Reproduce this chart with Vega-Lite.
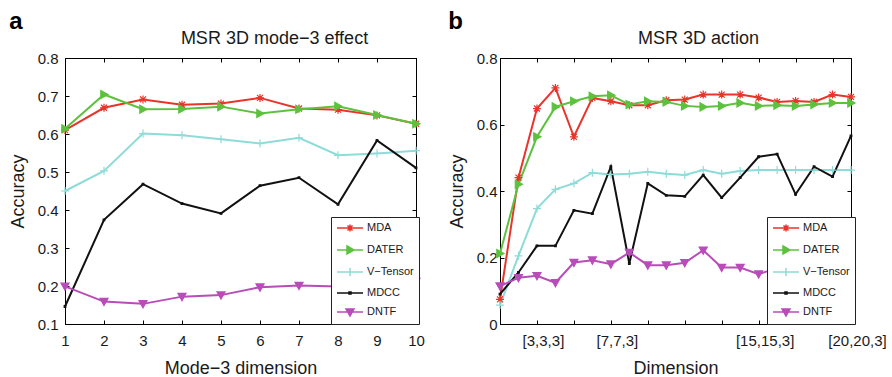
{
"$schema": "https://vega.github.io/schema/vega-lite/v6.json",
"padding": {"left": 8, "top": 9, "right": 2, "bottom": 0},
"spacing": 22,
"config": {
  "font": "Liberation Sans",
  "view": {"stroke": "#000", "strokeWidth": 1},
  "axis": {"domainColor": "#000", "tickColor": "#000", "tickSize": -4, "labelFont": "Liberation Sans", "labelFontSize": 15, "labelColor": "#1a1a1a", "labelFlush": false, "titleFont": "Liberation Sans", "titleFontSize": 18, "titleFontWeight": "normal", "titleColor": "#1a1a1a", "grid": false, "minExtent": 0},
  "legend": {"labelFont": "Liberation Sans", "labelFontSize": 11, "labelColor": "#1a1a1a"},
  "title": {"font": "Liberation Sans", "fontSize": 24, "fontWeight": "bold", "color": "#000", "anchor": "start", "frame": "bounds", "baseline": "alphabetic", "offset": -5}
},
"datasets": {
  "a": [
    {"dim":1,"method":"MDA","acc":0.61},{"dim":2,"method":"MDA","acc":0.669},{"dim":3,"method":"MDA","acc":0.691},{"dim":4,"method":"MDA","acc":0.677},{"dim":5,"method":"MDA","acc":0.68},{"dim":6,"method":"MDA","acc":0.695},{"dim":7,"method":"MDA","acc":0.667},{"dim":8,"method":"MDA","acc":0.664},{"dim":9,"method":"MDA","acc":0.649},{"dim":10,"method":"MDA","acc":0.627},
    {"dim":1,"method":"DATER","acc":0.614},{"dim":2,"method":"DATER","acc":0.704},{"dim":3,"method":"DATER","acc":0.665},{"dim":4,"method":"DATER","acc":0.666},{"dim":5,"method":"DATER","acc":0.672},{"dim":6,"method":"DATER","acc":0.654},{"dim":7,"method":"DATER","acc":0.665},{"dim":8,"method":"DATER","acc":0.673},{"dim":9,"method":"DATER","acc":0.65},{"dim":10,"method":"DATER","acc":0.627},
    {"dim":1,"method":"V−Tensor","acc":0.45},{"dim":2,"method":"V−Tensor","acc":0.503},{"dim":3,"method":"V−Tensor","acc":0.601},{"dim":4,"method":"V−Tensor","acc":0.597},{"dim":5,"method":"V−Tensor","acc":0.586},{"dim":6,"method":"V−Tensor","acc":0.575},{"dim":7,"method":"V−Tensor","acc":0.59},{"dim":8,"method":"V−Tensor","acc":0.544},{"dim":9,"method":"V−Tensor","acc":0.549},{"dim":10,"method":"V−Tensor","acc":0.556},
    {"dim":1,"method":"MDCC","acc":0.146},{"dim":2,"method":"MDCC","acc":0.374},{"dim":3,"method":"MDCC","acc":0.468},{"dim":4,"method":"MDCC","acc":0.417},{"dim":5,"method":"MDCC","acc":0.391},{"dim":6,"method":"MDCC","acc":0.464},{"dim":7,"method":"MDCC","acc":0.485},{"dim":8,"method":"MDCC","acc":0.415},{"dim":9,"method":"MDCC","acc":0.583},{"dim":10,"method":"MDCC","acc":0.511},
    {"dim":1,"method":"DNTF","acc":0.199},{"dim":2,"method":"DNTF","acc":0.159},{"dim":3,"method":"DNTF","acc":0.153},{"dim":4,"method":"DNTF","acc":0.172},{"dim":5,"method":"DNTF","acc":0.176},{"dim":6,"method":"DNTF","acc":0.197},{"dim":7,"method":"DNTF","acc":0.201},{"dim":8,"method":"DNTF","acc":0.199},{"dim":9,"method":"DNTF","acc":0.204},{"dim":10,"method":"DNTF","acc":0.212}
  ],
  "b": [
    {"dim":1,"method":"MDA","acc":0.074},{"dim":2,"method":"MDA","acc":0.44},{"dim":3,"method":"MDA","acc":0.648},{"dim":4,"method":"MDA","acc":0.71},{"dim":5,"method":"MDA","acc":0.563},{"dim":6,"method":"MDA","acc":0.68},{"dim":7,"method":"MDA","acc":0.67},{"dim":8,"method":"MDA","acc":0.658},{"dim":9,"method":"MDA","acc":0.658},{"dim":10,"method":"MDA","acc":0.673},{"dim":11,"method":"MDA","acc":0.675},{"dim":12,"method":"MDA","acc":0.69},{"dim":13,"method":"MDA","acc":0.69},{"dim":14,"method":"MDA","acc":0.69},{"dim":15,"method":"MDA","acc":0.681},{"dim":16,"method":"MDA","acc":0.668},{"dim":17,"method":"MDA","acc":0.671},{"dim":18,"method":"MDA","acc":0.668},{"dim":19,"method":"MDA","acc":0.69},{"dim":20,"method":"MDA","acc":0.683},
    {"dim":1,"method":"DATER","acc":0.212},{"dim":2,"method":"DATER","acc":0.42},{"dim":3,"method":"DATER","acc":0.563},{"dim":4,"method":"DATER","acc":0.653},{"dim":5,"method":"DATER","acc":0.67},{"dim":6,"method":"DATER","acc":0.685},{"dim":7,"method":"DATER","acc":0.688},{"dim":8,"method":"DATER","acc":0.66},{"dim":9,"method":"DATER","acc":0.67},{"dim":10,"method":"DATER","acc":0.668},{"dim":11,"method":"DATER","acc":0.656},{"dim":12,"method":"DATER","acc":0.653},{"dim":13,"method":"DATER","acc":0.656},{"dim":14,"method":"DATER","acc":0.665},{"dim":15,"method":"DATER","acc":0.656},{"dim":16,"method":"DATER","acc":0.658},{"dim":17,"method":"DATER","acc":0.656},{"dim":18,"method":"DATER","acc":0.66},{"dim":19,"method":"DATER","acc":0.665},{"dim":20,"method":"DATER","acc":0.665},
    {"dim":1,"method":"V−Tensor","acc":0.057},{"dim":2,"method":"V−Tensor","acc":0.205},{"dim":3,"method":"V−Tensor","acc":0.347},{"dim":4,"method":"V−Tensor","acc":0.405},{"dim":5,"method":"V−Tensor","acc":0.423},{"dim":6,"method":"V−Tensor","acc":0.455},{"dim":7,"method":"V−Tensor","acc":0.45},{"dim":8,"method":"V−Tensor","acc":0.452},{"dim":9,"method":"V−Tensor","acc":0.458},{"dim":10,"method":"V−Tensor","acc":0.452},{"dim":11,"method":"V−Tensor","acc":0.448},{"dim":12,"method":"V−Tensor","acc":0.463},{"dim":13,"method":"V−Tensor","acc":0.452},{"dim":14,"method":"V−Tensor","acc":0.46},{"dim":15,"method":"V−Tensor","acc":0.463},{"dim":16,"method":"V−Tensor","acc":0.463},{"dim":17,"method":"V−Tensor","acc":0.463},{"dim":18,"method":"V−Tensor","acc":0.463},{"dim":19,"method":"V−Tensor","acc":0.463},{"dim":20,"method":"V−Tensor","acc":0.463},
    {"dim":1,"method":"MDCC","acc":0.09},{"dim":2,"method":"MDCC","acc":0.155},{"dim":3,"method":"MDCC","acc":0.235},{"dim":4,"method":"MDCC","acc":0.235},{"dim":5,"method":"MDCC","acc":0.342},{"dim":6,"method":"MDCC","acc":0.332},{"dim":7,"method":"MDCC","acc":0.473},{"dim":8,"method":"MDCC","acc":0.182},{"dim":9,"method":"MDCC","acc":0.423},{"dim":10,"method":"MDCC","acc":0.387},{"dim":11,"method":"MDCC","acc":0.384},{"dim":12,"method":"MDCC","acc":0.448},{"dim":13,"method":"MDCC","acc":0.38},{"dim":14,"method":"MDCC","acc":0.44},{"dim":15,"method":"MDCC","acc":0.503},{"dim":16,"method":"MDCC","acc":0.511},{"dim":17,"method":"MDCC","acc":0.39},{"dim":18,"method":"MDCC","acc":0.473},{"dim":19,"method":"MDCC","acc":0.443},{"dim":20,"method":"MDCC","acc":0.566},
    {"dim":1,"method":"DNTF","acc":0.114},{"dim":2,"method":"DNTF","acc":0.139},{"dim":3,"method":"DNTF","acc":0.145},{"dim":4,"method":"DNTF","acc":0.124},{"dim":5,"method":"DNTF","acc":0.185},{"dim":6,"method":"DNTF","acc":0.192},{"dim":7,"method":"DNTF","acc":0.18},{"dim":8,"method":"DNTF","acc":0.215},{"dim":9,"method":"DNTF","acc":0.177},{"dim":10,"method":"DNTF","acc":0.177},{"dim":11,"method":"DNTF","acc":0.184},{"dim":12,"method":"DNTF","acc":0.222},{"dim":13,"method":"DNTF","acc":0.17},{"dim":14,"method":"DNTF","acc":0.17},{"dim":15,"method":"DNTF","acc":0.15},{"dim":16,"method":"DNTF","acc":0.168},{"dim":17,"method":"DNTF","acc":0.17},{"dim":18,"method":"DNTF","acc":0.172},{"dim":19,"method":"DNTF","acc":0.17},{"dim":20,"method":"DNTF","acc":0.169}
  ]
},
"hconcat": [
  {
    "width": 351, "height": 266,
    "title": {"text": "a"},
    "data": {"name": "a"},
    "resolve": {"axis": {"x": "independent", "y": "independent"}, "scale": {"fill": "independent", "stroke": "independent", "shape": "independent"}},
    "layer": [
      {
        "mark": {"type": "line", "strokeWidth": 2},
        "encoding": {
          "x": {"field": "dim", "type": "quantitative", "scale": {"domain": [1, 10], "nice": false, "zero": false}, "axis": {"orient": "bottom", "values": [1,2,3,4,5,6,7,8,9,10], "format": "d", "labelPadding": 13, "title": "Mode−3 dimension", "titlePadding": 11}},
          "y": {"field": "acc", "type": "quantitative", "scale": {"domain": [0.1, 0.8], "nice": false, "zero": false}, "axis": {"orient": "left", "values": [0.1,0.2,0.3,0.4,0.5,0.6,0.7,0.8], "format": ".1f", "labelPadding": 11, "title": "Accuracy", "titlePadding": 10}},
          "color": {"field": "method", "type": "nominal", "scale": {"domain": ["MDCC","DNTF","MDA","DATER","V−Tensor"], "range": ["#111111","#b84cb9","#e8342b","#5cc23e","#8ddcd8"]}, "legend": null}
        }
      },
      {
        "mark": {"type": "point", "filled": true, "size": 64, "strokeWidth": 1.2, "opacity": 1},
        "encoding": {
          "x": {"field": "dim", "type": "quantitative", "axis": {"orient": "top", "values": [1,2,3,4,5,6,7,8,9,10], "labels": false, "title": "MSR 3D mode−3 effect", "titlePadding": 14.5, "titleBaseline": "alphabetic", "titleX": 209}},
          "y": {"field": "acc", "type": "quantitative", "axis": {"orient": "right", "values": [0.1,0.2,0.3,0.4,0.5,0.6,0.7,0.8], "labels": false, "title": null}},
          "fill": {"field": "method", "type": "nominal", "scale": {"domain": ["DNTF","MDCC","V−Tensor","DATER","MDA"], "range": ["#b84cb9","#111111","#8ddcd8","#5cc23e","#e8342b"]}, "legend": null},
          "stroke": {"field": "method", "type": "nominal", "scale": {"domain": ["DNTF","MDCC","V−Tensor","DATER","MDA"], "range": ["#b84cb9","#111111","#8ddcd8","#5cc23e","#e8342b"]}, "legend": null},
          "shape": {"field": "method", "type": "nominal", "scale": {"domain": ["DNTF","MDCC","V−Tensor","DATER","MDA"], "range": ["M-1,-0.8H1L0,1Z", "M-0.2,-0.2H0.2V0.2H-0.2Z", "M-1,0H1M0,-1V1", "M-0.8,-1L1,0L-0.8,1Z", "M-1,0H1M0,-1V1M-0.75,-0.75L0.75,0.75M-0.75,0.75L0.75,-0.75"]}, "legend": null}
        }
      },
      {
        "transform": [{"filter": "false"}],
        "mark": {"type": "point", "filled": true, "size": 64},
        "encoding": {
          "x": {"field": "dim", "type": "quantitative", "axis": null},
          "y": {"field": "acc", "type": "quantitative", "axis": null},
          "fill": {"field": "method", "type": "nominal", "scale": {"domain": ["MDA","DATER","V−Tensor","MDCC","DNTF"], "range": ["#e8342b","#5cc23e","#8ddcd8","#111111","#b84cb9"]},
            "legend": {"orient": "none", "legendX": 266, "legendY": 159, "title": null, "fillColor": "#ffffff", "strokeColor": "#222222", "padding": 5, "symbolSize": 100, "symbolStrokeWidth": 1.5, "symbolOpacity": 1, "labelOffset": 19, "rowPadding": 8, "zindex": 1}},
          "stroke": {"field": "method", "type": "nominal", "scale": {"domain": ["MDA","DATER","V−Tensor","MDCC","DNTF"], "range": ["#e8342b","#5cc23e","#8ddcd8","#111111","#b84cb9"]},
            "legend": {"orient": "none", "legendX": 266, "legendY": 159, "title": null, "fillColor": "#ffffff", "strokeColor": "#222222", "padding": 5, "symbolSize": 100, "symbolStrokeWidth": 1.5, "symbolOpacity": 1, "labelOffset": 19, "rowPadding": 8, "zindex": 1}},
          "shape": {"field": "method", "type": "nominal", "scale": {"domain": ["MDA","DATER","V−Tensor","MDCC","DNTF"], "range": ["M-1,0H4.2M0.9,0H2.3M1.6,-0.7V0.7M1.1,-0.5L2.1,0.5M1.1,0.5L2.1,-0.5", "M-1,0H4.2M1,-0.8L2.4,0L1,0.8Z", "M-1,0H4.2M1.6,-0.8V0.8", "M-1,0H4.2M1.4,-0.2H1.8V0.2H1.4Z", "M-1,0H4.2M0.8,-0.6H2.4L1.6,0.8Z"]},
            "legend": {"orient": "none", "legendX": 266, "legendY": 159, "title": null, "fillColor": "#ffffff", "strokeColor": "#222222", "padding": 5, "symbolSize": 100, "symbolStrokeWidth": 1.5, "symbolOpacity": 1, "labelOffset": 19, "rowPadding": 8, "zindex": 1}}
        }
      }
    ]
  },
  {
    "width": 351, "height": 266,
    "title": {"text": "b"},
    "data": {"name": "b"},
    "resolve": {"axis": {"x": "independent", "y": "independent"}, "scale": {"fill": "independent", "stroke": "independent", "shape": "independent"}},
    "layer": [
      {
        "mark": {"type": "line", "strokeWidth": 2},
        "encoding": {
          "x": {"field": "dim", "type": "quantitative", "scale": {"domain": [1, 20], "nice": false, "zero": false}, "axis": {"orient": "bottom", "values": [1,3,5,7,9,11,13,15,17,19,20], "labelExpr": "datum.value == 3 ? '[3,3,3]' : datum.value == 7 ? '[7,7,3]' : datum.value == 15 ? '[15,15,3]' : datum.value == 20 ? '[20,20,3]' : ''", "labelOverlap": false, "labelOffset": 6, "labelPadding": 13, "title": "Dimension", "titlePadding": 11}},
          "y": {"field": "acc", "type": "quantitative", "scale": {"domain": [0, 0.8], "nice": false, "zero": false}, "axis": {"orient": "left", "values": [0,0.2,0.4,0.6,0.8], "labelExpr": "datum.value == 0 ? '0' : format(datum.value, '.1f')", "labelPadding": 7, "title": "Accuracy", "titlePadding": 10}},
          "color": {"field": "method", "type": "nominal", "scale": {"domain": ["MDCC","DNTF","MDA","DATER","V−Tensor"], "range": ["#111111","#b84cb9","#e8342b","#5cc23e","#8ddcd8"]}, "legend": null}
        }
      },
      {
        "mark": {"type": "point", "filled": true, "size": 64, "strokeWidth": 1.2, "opacity": 1},
        "encoding": {
          "x": {"field": "dim", "type": "quantitative", "axis": {"orient": "top", "values": [1,3,5,7,9,11,13,15,17,19,20], "labels": false, "title": "MSR 3D action", "titlePadding": 14.5, "titleBaseline": "alphabetic", "titleX": 198}},
          "y": {"field": "acc", "type": "quantitative", "axis": {"orient": "right", "values": [0,0.2,0.4,0.6,0.8], "labels": false, "title": null}},
          "fill": {"field": "method", "type": "nominal", "scale": {"domain": ["DNTF","MDCC","V−Tensor","DATER","MDA"], "range": ["#b84cb9","#111111","#8ddcd8","#5cc23e","#e8342b"]}, "legend": null},
          "stroke": {"field": "method", "type": "nominal", "scale": {"domain": ["DNTF","MDCC","V−Tensor","DATER","MDA"], "range": ["#b84cb9","#111111","#8ddcd8","#5cc23e","#e8342b"]}, "legend": null},
          "shape": {"field": "method", "type": "nominal", "scale": {"domain": ["DNTF","MDCC","V−Tensor","DATER","MDA"], "range": ["M-1,-0.8H1L0,1Z", "M-0.2,-0.2H0.2V0.2H-0.2Z", "M-1,0H1M0,-1V1", "M-0.8,-1L1,0L-0.8,1Z", "M-1,0H1M0,-1V1M-0.75,-0.75L0.75,0.75M-0.75,0.75L0.75,-0.75"]}, "legend": null}
        }
      },
      {
        "transform": [{"filter": "false"}],
        "mark": {"type": "point", "filled": true, "size": 64},
        "encoding": {
          "x": {"field": "dim", "type": "quantitative", "axis": null},
          "y": {"field": "acc", "type": "quantitative", "axis": null},
          "fill": {"field": "method", "type": "nominal", "scale": {"domain": ["MDA","DATER","V−Tensor","MDCC","DNTF"], "range": ["#e8342b","#5cc23e","#8ddcd8","#111111","#b84cb9"]},
            "legend": {"orient": "none", "legendX": 267, "legendY": 159, "title": null, "fillColor": "#ffffff", "strokeColor": "#222222", "padding": 5, "symbolSize": 100, "symbolStrokeWidth": 1.5, "symbolOpacity": 1, "labelOffset": 19, "rowPadding": 8, "zindex": 1}},
          "stroke": {"field": "method", "type": "nominal", "scale": {"domain": ["MDA","DATER","V−Tensor","MDCC","DNTF"], "range": ["#e8342b","#5cc23e","#8ddcd8","#111111","#b84cb9"]},
            "legend": {"orient": "none", "legendX": 267, "legendY": 159, "title": null, "fillColor": "#ffffff", "strokeColor": "#222222", "padding": 5, "symbolSize": 100, "symbolStrokeWidth": 1.5, "symbolOpacity": 1, "labelOffset": 19, "rowPadding": 8, "zindex": 1}},
          "shape": {"field": "method", "type": "nominal", "scale": {"domain": ["MDA","DATER","V−Tensor","MDCC","DNTF"], "range": ["M-1,0H4.2M0.9,0H2.3M1.6,-0.7V0.7M1.1,-0.5L2.1,0.5M1.1,0.5L2.1,-0.5", "M-1,0H4.2M1,-0.8L2.4,0L1,0.8Z", "M-1,0H4.2M1.6,-0.8V0.8", "M-1,0H4.2M1.4,-0.2H1.8V0.2H1.4Z", "M-1,0H4.2M0.8,-0.6H2.4L1.6,0.8Z"]},
            "legend": {"orient": "none", "legendX": 267, "legendY": 159, "title": null, "fillColor": "#ffffff", "strokeColor": "#222222", "padding": 5, "symbolSize": 100, "symbolStrokeWidth": 1.5, "symbolOpacity": 1, "labelOffset": 19, "rowPadding": 8, "zindex": 1}}
        }
      }
    ]
  }
]
}
